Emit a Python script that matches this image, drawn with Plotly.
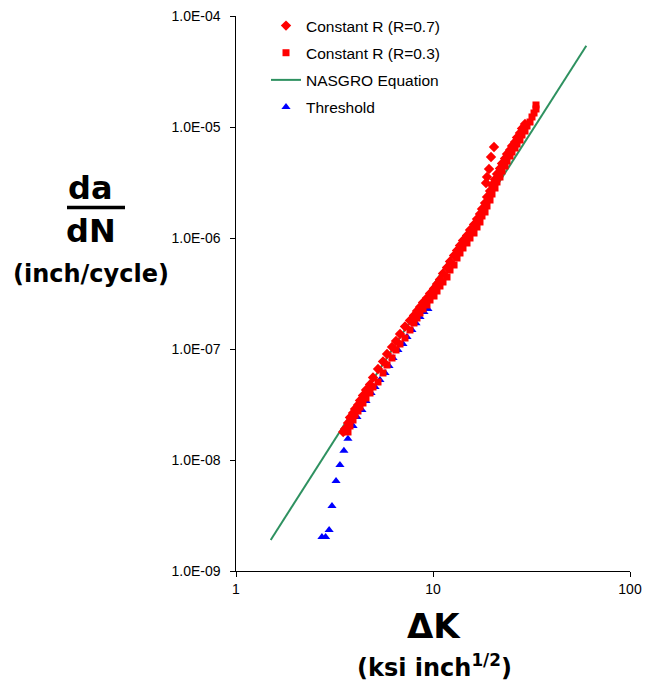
import plotly.graph_objects as go

# ---------------- data ----------------
# Constant R (R=0.7) -- diamonds
r07_dk = [3.50, 3.575, 3.703, 3.790, 3.926, 4.019, 4.162, 4.261, 4.412, 4.570, 4.789,
          4.960, 5.259, 5.576, 5.842, 6.194, 6.490, 6.800, 7.210, 7.642, 8.008,
          8.294, 8.590, 8.897, 9.322, 9.656, 10.12, 10.48, 10.85, 11.24, 11.78,
          12.20, 12.79, 13.24, 13.71, 14.20, 14.88, 15.41, 16.15, 16.73, 17.32,
          17.73, 18.37, 18.80, 19.47, 19.93, 20.64, 21.13, 21.88, 22.40, 23.20,
          23.75, 24.60, 25.18, 26.08, 26.70, 27.64, 28.30, 29.31,
          20.40, 19.70, 19.25, 18.80, 18.58]
r07_dadn = [1.788e-8, 1.903e-8, 2.155e-8, 2.415e-8, 2.651e-8, 2.880e-8, 3.129e-8, 3.436e-8,
            3.812e-8, 4.272e-8, 4.789e-8, 5.536e-8, 6.604e-8, 7.716e-8, 9.015e-8, 1.042e-7,
            1.180e-7, 1.365e-7, 1.595e-7, 1.806e-7, 2.003e-7, 2.200e-7, 2.390e-7, 2.623e-7,
            2.880e-7, 3.162e-7, 3.507e-7, 3.851e-7, 4.227e-7, 4.788e-7, 5.423e-7, 6.141e-7,
            6.956e-7, 7.716e-7, 8.559e-7, 9.495e-7, 1.053e-6, 1.180e-6, 1.323e-6, 1.484e-6,
            1.646e-6, 1.825e-6, 2.067e-6, 2.340e-6, 2.651e-6, 3.003e-6, 3.366e-6, 3.772e-6,
            4.227e-6, 4.689e-6, 5.202e-6, 5.712e-6, 6.206e-6, 6.741e-6, 7.325e-6, 8.043e-6,
            8.830e-6, 9.694e-6, 1.064e-5,
            6.604e-6, 5.366e-6, 4.184e-6, 3.544e-6, 3.130e-6]

# Constant R (R=0.3) -- squares
r03_dk = [3.703, 3.790, 3.926, 4.019, 4.162, 4.261, 4.412, 4.570, 4.789, 4.960, 5.259,
          5.576, 5.842, 6.194, 6.490, 6.800, 7.210, 7.642, 8.008, 8.294, 8.590,
          8.897, 9.322, 9.656, 10.12, 10.48, 10.85, 11.24, 11.78, 12.20, 12.79,
          13.24, 13.71, 14.20, 14.88, 15.41, 16.15, 16.73, 17.32, 17.73, 18.37,
          18.80, 19.47, 19.93, 20.64, 21.13, 21.88, 22.40, 23.20, 23.75, 24.60,
          25.18, 26.08, 26.70, 27.64, 28.30, 29.31, 30.01, 31.08, 31.81, 32.57,
          33.33, 33.33]
r03_dadn = [1.788e-8, 2.025e-8, 2.293e-8, 2.543e-8, 2.763e-8, 3.002e-8, 3.262e-8, 3.620e-8,
            4.014e-8, 4.547e-8, 5.043e-8, 6.078e-8, 7.176e-8, 8.297e-8, 9.795e-8, 1.109e-7,
            1.256e-7, 1.483e-7, 1.715e-7, 1.902e-7, 2.110e-7, 2.293e-7, 2.491e-7, 2.763e-7,
            3.002e-7, 3.330e-7, 3.694e-7, 4.014e-7, 4.452e-7, 5.149e-7, 5.711e-7, 6.604e-7,
            7.326e-7, 8.126e-7, 9.016e-7, 1.000e-6, 1.109e-6, 1.256e-6, 1.394e-6, 1.579e-6,
            1.715e-6, 1.943e-6, 2.199e-6, 2.491e-6, 2.821e-6, 3.196e-6, 3.544e-6, 4.014e-6,
            4.452e-6, 4.939e-6, 5.479e-6, 5.954e-6, 6.468e-6, 7.026e-6, 7.636e-6, 8.471e-6,
            9.204e-6, 1.021e-5, 1.109e-5, 1.231e-5, 1.337e-5, 1.453e-5, 1.579e-5]

# NASGRO Equation
nasgro_dk = [1.5, 10.0, 60.0]
nasgro_dadn = [1.905e-9, 3.71e-7, 5.40e-5]

# Threshold -- triangles
thr_dk = [2.73, 2.85, 2.97, 3.07, 3.22, 3.37, 3.53, 3.70, 3.93, 4.11, 4.36, 4.57, 4.85,
          5.08, 5.38, 5.71, 5.98, 6.27, 6.64, 7.04, 7.38, 7.82, 8.20, 8.59, 9.00, 9.43]
thr_dadn = [2.02e-9, 2.02e-9, 2.34e-9, 3.85e-9, 6.47e-9, 9.0e-9, 1.21e-8, 1.55e-8, 2.02e-8,
            2.44e-8, 2.82e-8, 3.40e-8, 4.02e-8, 4.55e-8, 5.26e-8, 6.08e-8, 7.03e-8, 8.30e-8,
            9.8e-8, 1.11e-7, 1.28e-7, 1.48e-7, 1.71e-7, 1.94e-7, 2.15e-7, 2.29e-7]

x_tickvals = [1, 10, 100]
x_ticktext = ["1", "10", "100"]
y_tickvals = [1e-9, 1e-8, 1e-7, 1e-6, 1e-5, 1e-4]
y_ticktext = ["1.0E-09", "1.0E-08", "1.0E-07", "1.0E-06", "1.0E-05", "1.0E-04"]

# ---------------- figure ----------------
FONT = "Liberation Sans, Arial, sans-serif"
TFONT = "DejaVu Sans, Liberation Sans, sans-serif"
fig = go.Figure()

fig.add_trace(go.Scatter(x=nasgro_dk, y=nasgro_dadn, mode="lines", name="NASGRO Equation",
                         line=dict(color="#2E9160", width=2), legendrank=3,
                         legendgroup="c"))
fig.add_trace(go.Scatter(x=thr_dk, y=thr_dadn, mode="markers", name="Threshold",
                         marker=dict(symbol="triangle-up", size=8, color="#0000FF"),
                         legendrank=4, legendgroup="d"))
fig.add_trace(go.Scatter(x=r03_dk, y=r03_dadn, mode="markers", name="Constant R (R=0.3)",
                         marker=dict(symbol="square", size=7, color="#FF0000"),
                         legendrank=2, legendgroup="b"))
fig.add_trace(go.Scatter(x=r07_dk, y=r07_dadn, mode="markers", name="Constant R (R=0.7)",
                         marker=dict(symbol="diamond", size=8, color="#FF0000"),
                         legendrank=1, legendgroup="a"))

axis_common = dict(type="log", showgrid=False, zeroline=False, showline=True,
                   linecolor="black", linewidth=1, ticks="outside", ticklen=5,
                   tickcolor="black", automargin=False, ticklabeloverflow="allow",
                   tickfont=dict(family=FONT, size=14, color="black"))
fig.update_xaxes(range=[0, 2], tickvals=x_tickvals, ticktext=x_ticktext, **axis_common)
fig.update_yaxes(range=[-9, -4], tickvals=y_tickvals,
                 ticktext=[t + "\u00a0\u2009" for t in y_ticktext], **axis_common)

W, H = 645, 682
PL, PR, PT, PB = 236, 630, 16, 571      # plot area in page pixels


def px_x(p):
    return (p - PL) / (PR - PL)


def px_y(p):
    return (PB - p) / (PB - PT)


annotations = [
    dict(text="<b>da</b>", x=px_x(90), y=px_y(188), font=dict(family=TFONT, size=32)),
    dict(text="<b>dN</b>", x=px_x(91), y=px_y(231), font=dict(family=TFONT, size=32)),
    dict(text="<b>(inch/cycle)</b>", x=px_x(91), y=px_y(274), font=dict(family=TFONT, size=24)),
    dict(text="<b>ΔK</b>", x=px_x(434), y=px_y(626), font=dict(family=TFONT, size=34)),
    dict(text="<b>(ksi inch<sup>1/2</sup>)</b>", x=px_x(434), y=px_y(666),
         font=dict(family=TFONT, size=24)),
]
for a in annotations:
    a.update(xref="paper", yref="paper", xanchor="center", yanchor="middle",
             showarrow=False)
    a["font"]["color"] = "black"

fig.add_shape(type="line", xref="paper", yref="paper", x0=px_x(67), x1=px_x(125),
              y0=px_y(207.5), y1=px_y(207.5), line=dict(color="black", width=3.5))

fig.update_layout(
    width=W, height=H,
    margin=dict(l=PL, r=W - PR, t=PT, b=H - PB, autoexpand=False),
    paper_bgcolor="white", plot_bgcolor="white",
    annotations=annotations,
    showlegend=True,
    legend=dict(x=px_x(266), y=px_y(9), xanchor="left", yanchor="top",
                bgcolor="rgba(0,0,0,0)", font=dict(family=FONT, size=15.5, color="black"),
                tracegroupgap=4, traceorder="grouped"),
    font=dict(family=FONT),
)

fig.write_html("out.html", config={"displayModeBar": False},
               post_script="document.body.style.margin='0px';")
